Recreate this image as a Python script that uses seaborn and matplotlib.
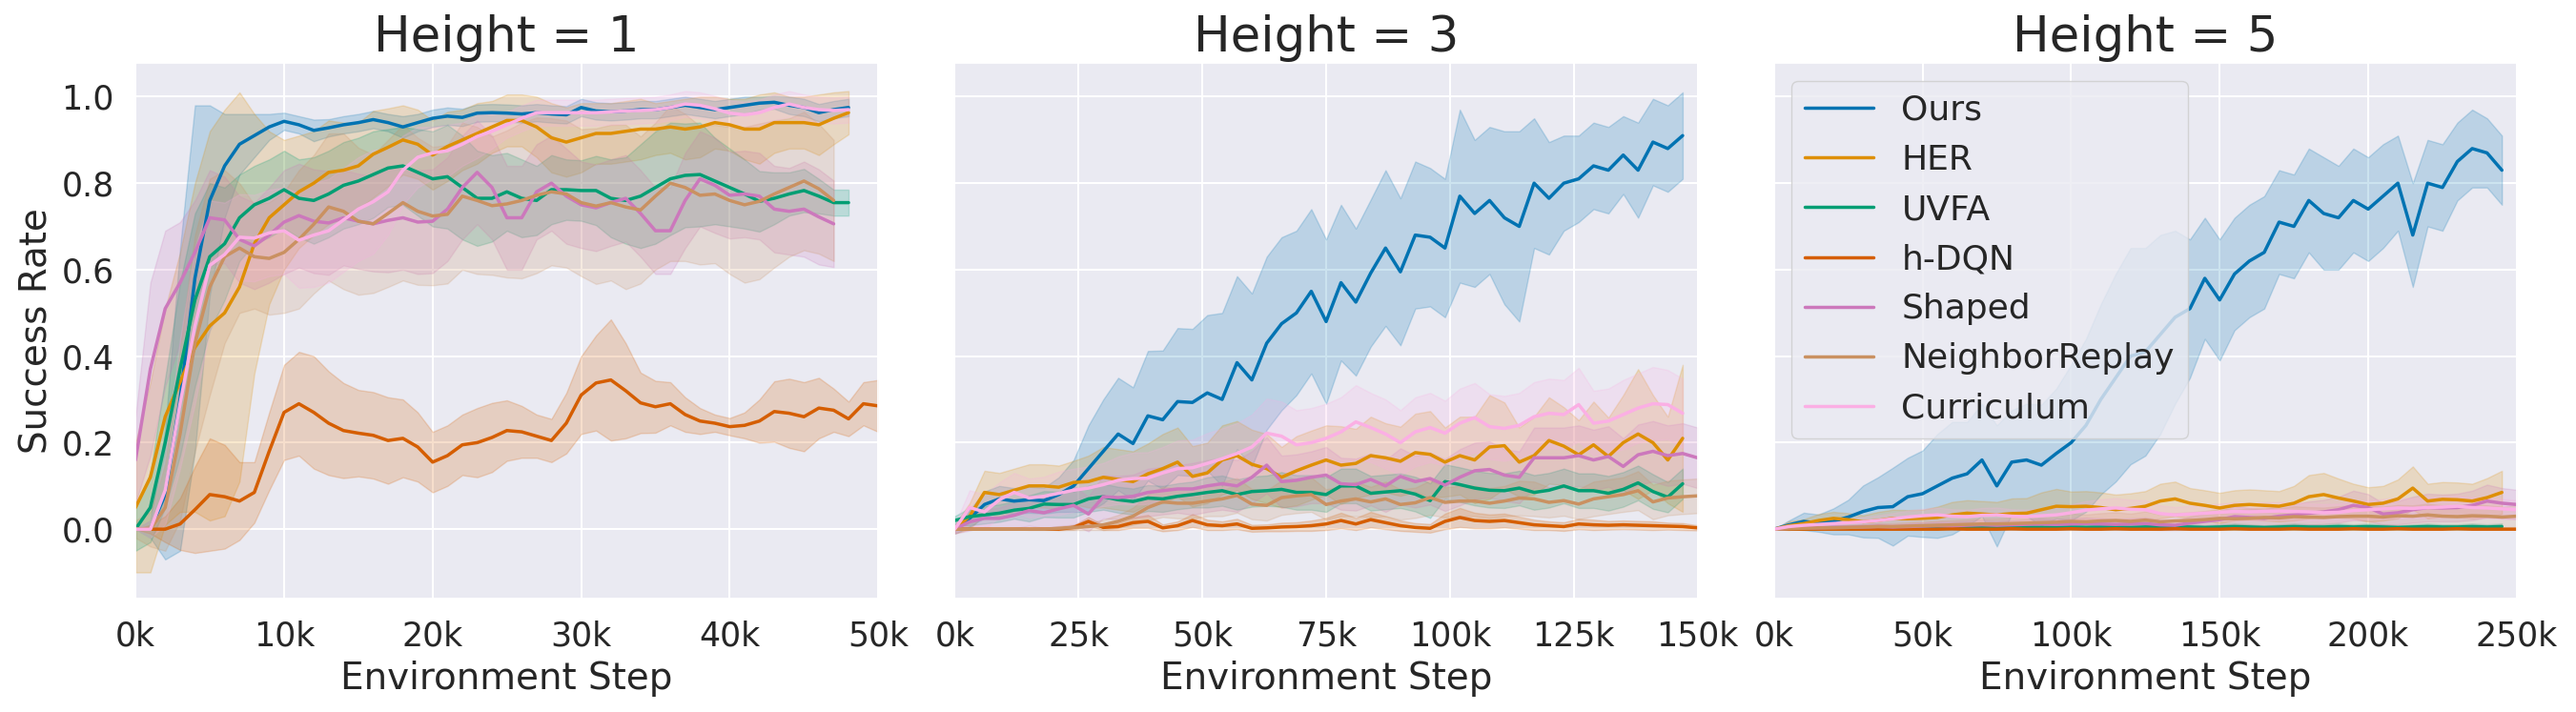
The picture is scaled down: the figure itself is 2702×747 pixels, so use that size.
import numpy as np
import pandas as pd
import seaborn as sns
import matplotlib.pyplot as plt
from matplotlib.ticker import FuncFormatter, MultipleLocator

nan = np.nan

methods = ["Ours", "HER", "UVFA", "h-DQN", "Shaped", "NeighborReplay", "Curriculum"]
heights = [1, 3, 5]

# environment steps, in thousands
steps_h1 = list(range(0, 51, 1))
steps_h3 = list(range(0, 151, 3))
steps_h5 = list(range(0, 251, 5))

# ---------------- Height = 1 ----------------
ours_h1 = [0.00, 0.00, 0.08, 0.30, 0.58, 0.76, 0.84, 0.89, 0.91, 0.93,
           0.943, 0.935, 0.922, 0.928, 0.935, 0.940, 0.947, 0.940, 0.930, 0.940,
           0.950, 0.955, 0.952, 0.962, 0.963, 0.962, 0.960, 0.963, 0.960, 0.958,
           0.975, 0.967, 0.965, 0.967, 0.970, 0.970, 0.975, 0.980, 0.975, 0.970,
           0.975, 0.980, 0.985, 0.987, 0.980, 0.975, 0.963, 0.970, 0.975, nan,
           nan]
ours_h1_sd = [0.00, 0.02, 0.15, 0.35, 0.40, 0.22, 0.12, 0.07, 0.05, 0.03,
              0.02, 0.02, 0.025, 0.02, 0.02, 0.02, 0.02, 0.02, 0.025, 0.02,
              0.02, 0.02, 0.02, 0.02, 0.02, 0.02, 0.02, 0.02, 0.02, 0.02,
              0.02, 0.02, 0.02, 0.02, 0.02, 0.02, 0.02, 0.02, 0.02, 0.02,
              0.02, 0.02, 0.015, 0.015, 0.02, 0.02, 0.02, 0.02, 0.02, nan,
              nan]
her_h1 = [0.05, 0.12, 0.26, 0.34, 0.42, 0.47, 0.50, 0.56, 0.66, 0.72,
          0.75, 0.78, 0.80, 0.825, 0.83, 0.84, 0.867, 0.883, 0.90, 0.89,
          0.865, 0.885, 0.90, 0.915, 0.93, 0.945, 0.945, 0.93, 0.905, 0.895,
          0.905, 0.915, 0.915, 0.92, 0.925, 0.925, 0.93, 0.925, 0.93, 0.94,
          0.935, 0.925, 0.925, 0.94, 0.94, 0.94, 0.935, 0.95, 0.963, nan,
          nan]
her_h1_sd = [0.15, 0.22, 0.25, 0.30, 0.38, 0.45, 0.47, 0.45, 0.30, 0.20,
             0.15, 0.13, 0.12, 0.12, 0.11, 0.10, 0.10, 0.09, 0.08, 0.08,
             0.08, 0.08, 0.07, 0.07, 0.06, 0.06, 0.06, 0.07, 0.08, 0.08,
             0.08, 0.07, 0.07, 0.07, 0.07, 0.06, 0.06, 0.07, 0.07, 0.06,
             0.06, 0.07, 0.08, 0.07, 0.06, 0.06, 0.07, 0.06, 0.05, nan,
             nan]
uvfa_h1 = [0.00, 0.05, 0.20, 0.37, 0.53, 0.63, 0.66, 0.72, 0.75, 0.765,
           0.785, 0.765, 0.76, 0.775, 0.795, 0.805, 0.82, 0.835, 0.84, 0.825,
           0.81, 0.815, 0.79, 0.765, 0.765, 0.78, 0.765, 0.76, 0.785, 0.785,
           0.783, 0.783, 0.765, 0.76, 0.77, 0.79, 0.81, 0.818, 0.82, 0.805,
           0.79, 0.775, 0.758, 0.765, 0.775, 0.783, 0.77, 0.755, 0.755, nan,
           nan]
uvfa_h1_sd = [0.05, 0.08, 0.15, 0.20, 0.20, 0.17, 0.13, 0.10, 0.09, 0.09,
              0.09, 0.09, 0.10, 0.10, 0.10, 0.10, 0.10, 0.09, 0.09, 0.10,
              0.11, 0.12, 0.12, 0.11, 0.10, 0.09, 0.09, 0.08, 0.08, 0.07,
              0.07, 0.08, 0.09, 0.10, 0.12, 0.13, 0.13, 0.12, 0.12, 0.10,
              0.09, 0.08, 0.07, 0.06, 0.05, 0.05, 0.04, 0.03, 0.03, nan,
              nan]
hdqn_h1 = [0.00, 0.00, 0.00, 0.012, 0.045, 0.08, 0.075, 0.065, 0.085, 0.18,
           0.27, 0.29, 0.27, 0.245, 0.228, 0.222, 0.217, 0.205, 0.21, 0.19,
           0.155, 0.17, 0.195, 0.20, 0.212, 0.228, 0.225, 0.215, 0.205, 0.245,
           0.31, 0.338, 0.345, 0.32, 0.292, 0.283, 0.29, 0.265, 0.25, 0.245,
           0.237, 0.24, 0.25, 0.272, 0.268, 0.26, 0.28, 0.275, 0.255, 0.29,
           0.285]
hdqn_h1_sd = [0.00, 0.01, 0.03, 0.06, 0.10, 0.13, 0.12, 0.09, 0.07, 0.09,
              0.11, 0.12, 0.13, 0.12, 0.11, 0.10, 0.10, 0.10, 0.09, 0.08,
              0.07, 0.07, 0.07, 0.08, 0.08, 0.07, 0.06, 0.05, 0.05, 0.07,
              0.09, 0.11, 0.14, 0.11, 0.07, 0.06, 0.05, 0.04, 0.03, 0.02,
              0.02, 0.03, 0.05, 0.07, 0.08, 0.08, 0.07, 0.05, 0.04, 0.05,
              0.06]
shaped_h1 = [0.16, 0.37, 0.51, 0.57, 0.64, 0.72, 0.715, 0.67, 0.655, 0.68,
             0.71, 0.725, 0.712, 0.708, 0.72, 0.712, 0.706, 0.714, 0.72, 0.71,
             0.712, 0.74, 0.79, 0.825, 0.79, 0.72, 0.72, 0.78, 0.80, 0.77,
             0.75, 0.743, 0.755, 0.765, 0.73, 0.69, 0.69, 0.76, 0.81, 0.795,
             0.772, 0.775, 0.77, 0.74, 0.735, 0.74, 0.722, 0.706, nan, nan,
             nan]
shaped_h1_sd = [0.10, 0.20, 0.18, 0.14, 0.12, 0.11, 0.10, 0.10, 0.10, 0.11,
                0.12, 0.12, 0.12, 0.12, 0.11, 0.11, 0.11, 0.12, 0.12, 0.12,
                0.12, 0.12, 0.12, 0.12, 0.12, 0.12, 0.12, 0.11, 0.11, 0.11,
                0.10, 0.10, 0.10, 0.10, 0.10, 0.10, 0.10, 0.11, 0.11, 0.11,
                0.10, 0.10, 0.10, 0.10, 0.10, 0.11, 0.11, 0.10, nan, nan,
                nan]
neighbor_h1 = [0.00, 0.00, 0.05, 0.22, 0.43, 0.56, 0.63, 0.65, 0.63, 0.626,
               0.64, 0.67, 0.705, 0.745, 0.735, 0.712, 0.706, 0.73, 0.755, 0.735,
               0.724, 0.728, 0.77, 0.76, 0.748, 0.752, 0.76, 0.772, 0.78, 0.775,
               0.755, 0.747, 0.755, 0.745, 0.738, 0.77, 0.80, 0.79, 0.772, 0.775,
               0.76, 0.75, 0.758, 0.775, 0.79, 0.805, 0.787, 0.76, nan, nan,
               nan]
neighbor_h1_sd = [0.02, 0.04, 0.10, 0.20, 0.25, 0.25, 0.20, 0.15, 0.12, 0.13,
                  0.14, 0.16, 0.16, 0.17, 0.18, 0.17, 0.16, 0.17, 0.18, 0.17,
                  0.16, 0.16, 0.17, 0.17, 0.16, 0.17, 0.18, 0.18, 0.17, 0.17,
                  0.17, 0.18, 0.18, 0.19, 0.17, 0.17, 0.18, 0.17, 0.16, 0.16,
                  0.17, 0.18, 0.18, 0.17, 0.16, 0.16, 0.15, 0.14, nan, nan,
                  nan]
curriculum_h1 = [0.00, 0.00, 0.09, 0.29, 0.47, 0.61, 0.635, 0.675, 0.673, 0.685,
                 0.69, 0.668, 0.68, 0.69, 0.715, 0.74, 0.757, 0.78, 0.83, 0.86,
                 0.87, 0.875, 0.89, 0.908, 0.92, 0.935, 0.95, 0.963, 0.963, 0.963,
                 0.963, 0.963, 0.965, 0.967, 0.968, 0.97, 0.975, 0.983, 0.98, 0.972,
                 0.962, 0.958, 0.963, 0.975, 0.983, 0.975, 0.97, 0.968, 0.97, nan,
                 nan]
curriculum_h1_sd = [0.00, 0.02, 0.08, 0.15, 0.18, 0.15, 0.12, 0.10, 0.10, 0.10,
                    0.10, 0.11, 0.12, 0.12, 0.12, 0.12, 0.12, 0.10, 0.08, 0.07,
                    0.06, 0.06, 0.05, 0.05, 0.04, 0.03, 0.03, 0.03, 0.03, 0.03,
                    0.03, 0.03, 0.03, 0.03, 0.03, 0.03, 0.03, 0.03, 0.03, 0.03,
                    0.03, 0.03, 0.03, 0.03, 0.03, 0.03, 0.03, 0.03, 0.03, nan,
                    nan]

# ---------------- Height = 3 ----------------
ours_h3 = [0.00, 0.025, 0.057, 0.07, 0.065, 0.068, 0.066, 0.08, 0.10, 0.14,
           0.18, 0.22, 0.198, 0.262, 0.253, 0.295, 0.293, 0.315, 0.30, 0.385,
           0.345, 0.43, 0.475, 0.50, 0.55, 0.48, 0.57, 0.525, 0.592, 0.65,
           0.595, 0.68, 0.675, 0.65, 0.77, 0.73, 0.76, 0.72, 0.70, 0.80,
           0.765, 0.80, 0.81, 0.84, 0.83, 0.865, 0.83, 0.895, 0.88, 0.91,
           nan]
ours_h3_sd = [0.01, 0.02, 0.03, 0.03, 0.03, 0.03, 0.03, 0.04, 0.06, 0.10,
              0.12, 0.13, 0.13, 0.15, 0.16, 0.17, 0.17, 0.18, 0.20, 0.20,
              0.20, 0.20, 0.20, 0.19, 0.19, 0.19, 0.18, 0.17, 0.17, 0.18,
              0.17, 0.17, 0.16, 0.16, 0.20, 0.17, 0.17, 0.20, 0.22, 0.15,
              0.13, 0.11, 0.10, 0.10, 0.10, 0.09, 0.11, 0.10, 0.10, 0.10,
              nan]
her_h3 = [0.00, 0.03, 0.085, 0.08, 0.09, 0.10, 0.10, 0.097, 0.108, 0.11,
          0.12, 0.115, 0.11, 0.128, 0.14, 0.155, 0.122, 0.13, 0.16, 0.17,
          0.15, 0.14, 0.12, 0.135, 0.148, 0.16, 0.148, 0.152, 0.17, 0.165,
          0.157, 0.177, 0.173, 0.155, 0.17, 0.16, 0.19, 0.193, 0.155, 0.17,
          0.205, 0.192, 0.172, 0.195, 0.168, 0.20, 0.22, 0.20, 0.16, 0.21,
          nan]
her_h3_sd = [0.01, 0.03, 0.05, 0.05, 0.05, 0.05, 0.05, 0.05, 0.05, 0.06,
             0.07, 0.07, 0.07, 0.07, 0.08, 0.08, 0.07, 0.07, 0.08, 0.08,
             0.08, 0.08, 0.07, 0.08, 0.08, 0.08, 0.09, 0.08, 0.09, 0.08,
             0.08, 0.09, 0.10, 0.08, 0.09, 0.10, 0.12, 0.10, 0.08, 0.09,
             0.10, 0.09, 0.08, 0.10, 0.09, 0.11, 0.15, 0.11, 0.10, 0.17,
             nan]
uvfa_h3 = [0.02, 0.029, 0.033, 0.037, 0.044, 0.048, 0.058, 0.057, 0.057, 0.07,
           0.075, 0.068, 0.064, 0.072, 0.07, 0.076, 0.08, 0.085, 0.089, 0.08,
           0.087, 0.089, 0.092, 0.085, 0.085, 0.08, 0.10, 0.10, 0.083, 0.086,
           0.089, 0.081, 0.066, 0.11, 0.103, 0.095, 0.09, 0.089, 0.095, 0.085,
           0.09, 0.10, 0.089, 0.089, 0.083, 0.092, 0.107, 0.087, 0.074, 0.105,
           nan]
uvfa_h3_sd = [0.01, 0.02, 0.02, 0.02, 0.02, 0.03, 0.03, 0.03, 0.03, 0.03,
              0.03, 0.03, 0.03, 0.03, 0.03, 0.03, 0.03, 0.035, 0.035, 0.035,
              0.035, 0.035, 0.04, 0.04, 0.04, 0.04, 0.04, 0.04, 0.04, 0.04,
              0.04, 0.04, 0.04, 0.04, 0.04, 0.04, 0.04, 0.04, 0.04, 0.04,
              0.04, 0.04, 0.04, 0.04, 0.04, 0.04, 0.04, 0.04, 0.035, 0.035,
              nan]
hdqn_h3 = [0.0, 0.0, 0.0, 0.0, 0.0, 0.0, 0.0, 0.0, 0.004, 0.018,
           0.004, 0.006, 0.015, 0.018, 0.003, 0.008, 0.02, 0.01, 0.008, 0.012,
           0.002, 0.003, 0.005, 0.006, 0.008, 0.012, 0.02, 0.012, 0.022, 0.015,
           0.008, 0.004, 0.002, 0.018, 0.027, 0.02, 0.018, 0.02, 0.015, 0.01,
           0.008, 0.006, 0.012, 0.01, 0.009, 0.01, 0.009, 0.008, 0.007, 0.006,
           0.003]
hdqn_h3_sd = [0.0, 0.0, 0.0, 0.0, 0.0, 0.0, 0.0, 0.002, 0.005, 0.01,
              0.006, 0.008, 0.012, 0.015, 0.008, 0.01, 0.015, 0.012, 0.01, 0.012,
              0.008, 0.008, 0.01, 0.01, 0.012, 0.014, 0.018, 0.014, 0.018, 0.015,
              0.012, 0.01, 0.01, 0.018, 0.022, 0.018, 0.016, 0.016, 0.014, 0.012,
              0.01, 0.01, 0.012, 0.012, 0.01, 0.01, 0.01, 0.01, 0.008, 0.008,
              0.006]
shaped_h3 = [0.00, 0.017, 0.025, 0.025, 0.032, 0.043, 0.038, 0.047, 0.055, 0.035,
             0.075, 0.073, 0.076, 0.085, 0.089, 0.093, 0.093, 0.10, 0.105, 0.10,
             0.12, 0.148, 0.11, 0.113, 0.12, 0.125, 0.105, 0.103, 0.115, 0.10,
             0.122, 0.11, 0.117, 0.102, 0.12, 0.135, 0.138, 0.125, 0.12, 0.165,
             0.165, 0.165, 0.17, 0.16, 0.168, 0.145, 0.172, 0.18, 0.17, 0.175,
             0.165]
shaped_h3_sd = [0.01, 0.02, 0.02, 0.025, 0.03, 0.035, 0.035, 0.04, 0.045, 0.04,
                0.05, 0.05, 0.05, 0.055, 0.055, 0.055, 0.06, 0.06, 0.06, 0.06,
                0.06, 0.065, 0.06, 0.06, 0.06, 0.065, 0.06, 0.06, 0.06, 0.06,
                0.065, 0.06, 0.06, 0.06, 0.065, 0.065, 0.065, 0.06, 0.06, 0.07,
                0.07, 0.07, 0.07, 0.07, 0.07, 0.065, 0.07, 0.07, 0.07, 0.07,
                0.07]
neighbor_h3 = [0.0, 0.0, 0.0, 0.0, 0.0, 0.0, 0.0, 0.002, 0.004, 0.006,
               0.01, 0.018, 0.03, 0.05, 0.063, 0.06, 0.06, 0.065, 0.07, 0.078,
               0.058, 0.055, 0.073, 0.077, 0.08, 0.057, 0.065, 0.07, 0.063, 0.07,
               0.057, 0.061, 0.073, 0.062, 0.065, 0.065, 0.06, 0.065, 0.072, 0.07,
               0.062, 0.066, 0.058, 0.07, 0.075, 0.08, 0.089, 0.063, 0.072, 0.075,
               0.077]
neighbor_h3_sd = [0.0, 0.0, 0.0, 0.0, 0.0, 0.002, 0.002, 0.004, 0.006, 0.008,
                  0.012, 0.015, 0.02, 0.03, 0.035, 0.035, 0.035, 0.035, 0.04, 0.04,
                  0.035, 0.035, 0.04, 0.04, 0.04, 0.035, 0.035, 0.04, 0.035, 0.04,
                  0.035, 0.035, 0.04, 0.035, 0.035, 0.035, 0.035, 0.035, 0.04, 0.04,
                  0.035, 0.035, 0.035, 0.04, 0.04, 0.04, 0.045, 0.04, 0.04, 0.04,
                  0.04]
curriculum_h3 = [0.00, 0.05, 0.04, 0.068, 0.085, 0.072, 0.076, 0.083, 0.09, 0.095,
                 0.103, 0.113, 0.117, 0.118, 0.13, 0.14, 0.142, 0.152, 0.163, 0.175,
                 0.19, 0.222, 0.215, 0.195, 0.20, 0.21, 0.225, 0.248, 0.235, 0.22,
                 0.20, 0.225, 0.235, 0.222, 0.245, 0.258, 0.237, 0.233, 0.24, 0.26,
                 0.268, 0.265, 0.288, 0.245, 0.25, 0.265, 0.28, 0.29, 0.288, 0.268,
                 nan]
curriculum_h3_sd = [0.01, 0.04, 0.04, 0.04, 0.045, 0.045, 0.045, 0.05, 0.05, 0.05,
                    0.05, 0.055, 0.06, 0.06, 0.06, 0.065, 0.065, 0.07, 0.07, 0.07,
                    0.075, 0.08, 0.08, 0.08, 0.08, 0.08, 0.08, 0.085, 0.08, 0.08,
                    0.075, 0.08, 0.08, 0.075, 0.08, 0.08, 0.075, 0.075, 0.075, 0.08,
                    0.08, 0.08, 0.085, 0.075, 0.075, 0.08, 0.08, 0.085, 0.08, 0.08,
                    nan]

# ---------------- Height = 5 ----------------
ours_h5 = [0.00, 0.01, 0.018, 0.014, 0.018, 0.028, 0.041, 0.05, 0.052, 0.075,
           0.082, 0.10, 0.118, 0.128, 0.16, 0.10, 0.155, 0.16, 0.148, 0.175,
           0.20, 0.24, 0.30, 0.35, 0.40, 0.41, 0.45, 0.49, 0.51, 0.58,
           0.53, 0.59, 0.62, 0.64, 0.71, 0.70, 0.76, 0.73, 0.72, 0.76,
           0.74, 0.77, 0.80, 0.68, 0.80, 0.79, 0.85, 0.88, 0.87, 0.83,
           nan]
ours_h5_sd = [0.00, 0.01, 0.02, 0.02, 0.03, 0.04, 0.06, 0.07, 0.09, 0.09,
              0.10, 0.12, 0.13, 0.12, 0.13, 0.14, 0.12, 0.13, 0.14, 0.15,
              0.18, 0.20, 0.22, 0.24, 0.25, 0.24, 0.23, 0.20, 0.16, 0.14,
              0.14, 0.13, 0.13, 0.13, 0.12, 0.12, 0.12, 0.13, 0.12, 0.12,
              0.12, 0.12, 0.11, 0.12, 0.10, 0.10, 0.09, 0.09, 0.08, 0.08,
              nan]
her_h5 = [0.00, 0.008, 0.013, 0.02, 0.025, 0.022, 0.017, 0.02, 0.025, 0.024,
          0.025, 0.027, 0.033, 0.037, 0.035, 0.033, 0.036, 0.037, 0.045, 0.053,
          0.052, 0.053, 0.05, 0.045, 0.048, 0.053, 0.065, 0.07, 0.06, 0.055,
          0.049, 0.055, 0.057, 0.055, 0.053, 0.06, 0.075, 0.08, 0.072, 0.065,
          0.057, 0.06, 0.07, 0.095, 0.065, 0.069, 0.068, 0.065, 0.073, 0.085,
          nan]
her_h5_sd = [0.00, 0.01, 0.01, 0.015, 0.015, 0.015, 0.015, 0.02, 0.02, 0.02,
             0.02, 0.025, 0.03, 0.03, 0.03, 0.03, 0.035, 0.035, 0.04, 0.04,
             0.035, 0.035, 0.035, 0.035, 0.035, 0.035, 0.04, 0.04, 0.035, 0.035,
             0.035, 0.035, 0.035, 0.035, 0.035, 0.04, 0.05, 0.05, 0.045, 0.04,
             0.04, 0.04, 0.045, 0.05, 0.04, 0.04, 0.04, 0.04, 0.045, 0.05,
             nan]
uvfa_h5 = [0.0, 0.001, 0.001, 0.002, 0.002, 0.002, 0.003, 0.002, 0.003, 0.003,
           0.003, 0.004, 0.003, 0.004, 0.004, 0.003, 0.004, 0.005, 0.004, 0.004,
           0.005, 0.004, 0.005, 0.005, 0.004, 0.005, 0.006, 0.005, 0.005, 0.004,
           0.005, 0.006, 0.005, 0.004, 0.005, 0.006, 0.005, 0.005, 0.006, 0.005,
           0.006, 0.005, 0.004, 0.005, 0.006, 0.005, 0.005, 0.006, 0.005, 0.006,
           nan]
uvfa_h5_sd = [0.0, 0.002, 0.002, 0.003, 0.003, 0.003, 0.004, 0.003, 0.004, 0.004,
              0.004, 0.005, 0.004, 0.005, 0.005, 0.004, 0.005, 0.006, 0.005, 0.005,
              0.006, 0.005, 0.006, 0.006, 0.005, 0.006, 0.007, 0.006, 0.006, 0.005,
              0.006, 0.007, 0.006, 0.005, 0.006, 0.007, 0.006, 0.006, 0.007, 0.006,
              0.007, 0.006, 0.005, 0.006, 0.007, 0.006, 0.006, 0.007, 0.006, 0.007,
              nan]
hdqn_h5 = [0.0, 0.0, 0.0, 0.0, 0.0, 0.0, 0.0, 0.0, 0.0, 0.0,
           0.0, 0.0, 0.001, 0.0, 0.0, 0.0, 0.001, 0.0, 0.0, 0.0,
           0.001, 0.0, 0.0, 0.001, 0.0, 0.0, 0.0, 0.001, 0.0, 0.0,
           0.0, 0.001, 0.0, 0.0, 0.0, 0.001, 0.0, 0.0, 0.0, 0.001,
           0.0, 0.0, 0.001, 0.0, 0.0, 0.0, 0.001, 0.0, 0.0, 0.0,
           0.0]
hdqn_h5_sd = [0.0, 0.0, 0.0, 0.0, 0.0, 0.0, 0.0, 0.0, 0.0, 0.0,
              0.0, 0.0, 0.002, 0.0, 0.0, 0.0, 0.002, 0.0, 0.0, 0.0,
              0.002, 0.0, 0.0, 0.002, 0.0, 0.0, 0.0, 0.002, 0.0, 0.0,
              0.0, 0.002, 0.0, 0.0, 0.0, 0.002, 0.0, 0.0, 0.0, 0.002,
              0.0, 0.0, 0.002, 0.0, 0.0, 0.0, 0.002, 0.0, 0.0, 0.0,
              0.0]
shaped_h5 = [0.0, 0.002, 0.003, 0.003, 0.004, 0.004, 0.005, 0.006, 0.005, 0.006,
             0.007, 0.008, 0.008, 0.009, 0.01, 0.009, 0.01, 0.011, 0.012, 0.011,
             0.012, 0.013, 0.012, 0.011, 0.012, 0.013, 0.01, 0.009, 0.014, 0.018,
             0.022, 0.029, 0.027, 0.025, 0.03, 0.033, 0.037, 0.04, 0.045, 0.055,
             0.05, 0.035, 0.038, 0.045, 0.05, 0.049, 0.05, 0.055, 0.065, 0.06,
             0.057]
shaped_h5_sd = [0.0, 0.003, 0.004, 0.004, 0.005, 0.005, 0.006, 0.007, 0.006, 0.007,
                0.008, 0.009, 0.009, 0.01, 0.011, 0.01, 0.011, 0.012, 0.013, 0.012,
                0.013, 0.014, 0.013, 0.012, 0.013, 0.014, 0.012, 0.011, 0.015, 0.018,
                0.02, 0.024, 0.022, 0.021, 0.024, 0.025, 0.027, 0.028, 0.03, 0.034,
                0.031, 0.025, 0.027, 0.03, 0.032, 0.031, 0.032, 0.034, 0.038, 0.035,
                0.034]
neighbor_h5 = [0.0, 0.001, 0.002, 0.003, 0.003, 0.004, 0.005, 0.006, 0.006, 0.007,
               0.008, 0.009, 0.01, 0.011, 0.012, 0.012, 0.013, 0.014, 0.015, 0.016,
               0.018, 0.017, 0.019, 0.02, 0.018, 0.021, 0.017, 0.019, 0.02, 0.022,
               0.025, 0.024, 0.025, 0.027, 0.026, 0.029, 0.028, 0.027, 0.029, 0.03,
               0.03, 0.028, 0.031, 0.03, 0.033, 0.03, 0.029, 0.031, 0.03, 0.028,
               0.03]
neighbor_h5_sd = [0.0, 0.002, 0.003, 0.004, 0.004, 0.005, 0.006, 0.007, 0.007, 0.008,
                  0.009, 0.01, 0.011, 0.012, 0.013, 0.013, 0.014, 0.015, 0.016, 0.016,
                  0.018, 0.017, 0.018, 0.019, 0.018, 0.02, 0.017, 0.018, 0.019, 0.02,
                  0.022, 0.021, 0.022, 0.023, 0.022, 0.024, 0.023, 0.023, 0.024, 0.025,
                  0.025, 0.024, 0.025, 0.025, 0.026, 0.025, 0.024, 0.025, 0.025, 0.024,
                  0.025]
curriculum_h5 = [0.0, 0.006, 0.009, 0.011, 0.013, 0.015, 0.017, 0.02, 0.024, 0.028,
                 0.031, 0.033, 0.03, 0.029, 0.032, 0.033, 0.03, 0.029, 0.031, 0.033,
                 0.038, 0.044, 0.047, 0.049, 0.046, 0.045, 0.036, 0.033, 0.035, 0.037,
                 0.039, 0.041, 0.04, 0.041, 0.042, 0.041, 0.04, 0.038, 0.039, 0.043,
                 0.045, 0.047, 0.049, 0.048, 0.05, 0.051, 0.053, 0.05, 0.049, 0.047,
                 0.045]
curriculum_h5_sd = [0.0, 0.005, 0.007, 0.008, 0.009, 0.01, 0.011, 0.012, 0.013, 0.015,
                    0.016, 0.017, 0.016, 0.016, 0.017, 0.017, 0.016, 0.016, 0.017, 0.017,
                    0.019, 0.021, 0.022, 0.023, 0.022, 0.022, 0.019, 0.018, 0.019, 0.019,
                    0.02, 0.021, 0.02, 0.021, 0.021, 0.021, 0.02, 0.02, 0.02, 0.022,
                    0.022, 0.023, 0.024, 0.023, 0.024, 0.024, 0.025, 0.024, 0.024, 0.023,
                    0.022]

panels = [
    (steps_h1,
     [ours_h1, her_h1, uvfa_h1, hdqn_h1, shaped_h1, neighbor_h1, curriculum_h1],
     [ours_h1_sd, her_h1_sd, uvfa_h1_sd, hdqn_h1_sd, shaped_h1_sd, neighbor_h1_sd, curriculum_h1_sd],
     50, 10),
    (steps_h3,
     [ours_h3, her_h3, uvfa_h3, hdqn_h3, shaped_h3, neighbor_h3, curriculum_h3],
     [ours_h3_sd, her_h3_sd, uvfa_h3_sd, hdqn_h3_sd, shaped_h3_sd, neighbor_h3_sd, curriculum_h3_sd],
     150, 25),
    (steps_h5,
     [ours_h5, her_h5, uvfa_h5, hdqn_h5, shaped_h5, neighbor_h5, curriculum_h5],
     [ours_h5_sd, her_h5_sd, uvfa_h5_sd, hdqn_h5_sd, shaped_h5_sd, neighbor_h5_sd, curriculum_h5_sd],
     250, 50),
]

sns.set_theme(style="darkgrid", palette="colorblind", rc={
    "xtick.labelsize": 25, "ytick.labelsize": 25,
    "axes.labelsize": 28, "axes.titlesize": 37,
    "legend.fontsize": 26,
    "xtick.major.size": 0, "ytick.major.size": 0,
    "xtick.major.pad": 16, "ytick.major.pad": 16,
    "grid.linewidth": 1.5, "axes.titlepad": 9,
})
plt.rcParams["font.family"] = ["DejaVu Sans"]
colors = sns.color_palette("colorblind", len(methods))

fig, axes = plt.subplots(1, 3, figsize=(27.02, 7.47), dpi=100, sharey=True)
fig.subplots_adjust(left=0.0526, right=0.977, bottom=0.159, top=0.911, wspace=0.103)

for i, (ax, (steps, means, sds, xmax, tick)) in enumerate(zip(axes, panels)):
    frames = []
    for m, mean, sd in zip(methods, means, sds):
        frames.append(pd.DataFrame({"method": m, "step": steps, "rate": mean, "sd": sd}))
    df = pd.concat(frames, ignore_index=True).dropna()

    # bands first so the mean lines sit on top
    for m, c in zip(methods, colors):
        sub = df[df["method"] == m]
        ax.fill_between(sub["step"], sub["rate"] - sub["sd"], sub["rate"] + sub["sd"],
                        color=c, alpha=0.2, linewidth=1)

    sns.lineplot(data=df, x="step", y="rate", hue="method", hue_order=methods,
                 palette=colors, linewidth=2.5, errorbar=None, ax=ax, legend=(i == 2))

    ax.set_xlim(0, xmax)
    ax.xaxis.set_major_locator(MultipleLocator(tick))
    ax.xaxis.set_major_formatter(FuncFormatter(lambda v, p: f"{v:.0f}k"))
    ax.set_xlabel("Environment Step", labelpad=6)
    ax.set_ylabel("Success Rate" if i == 0 else "", labelpad=5)
    ax.set_title(f"Height = {heights[i]}")

axes[0].set_ylim(-0.161, 1.077)

handles, labels = axes[2].get_legend_handles_labels()
axes[2].legend(handles, labels, loc="upper left", fontsize=26)

fig.savefig("out.png", dpi=100)
